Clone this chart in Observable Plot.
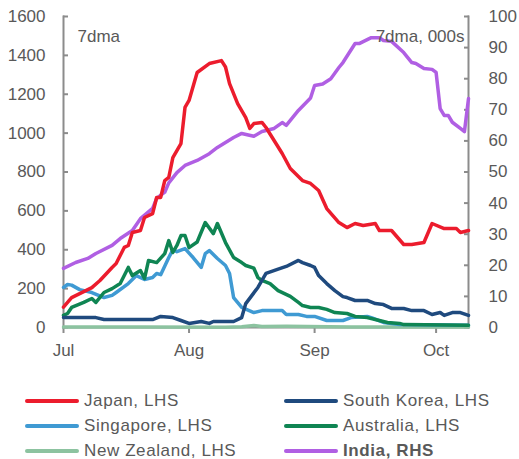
<!DOCTYPE html>
<html>
<head>
<meta charset="utf-8">
<script src="https://cdn.jsdelivr.net/npm/d3@7"></script>
<script src="https://cdn.jsdelivr.net/npm/@observablehq/plot@0.6"></script>
<style>
  body { margin: 0; background: #fff; font-family: "Liberation Sans", Arial, sans-serif; }
  #chart { width: 519px; }
  .legend { display: grid; grid-template-columns: 259px 240px; padding-left: 25px; margin-top: 24px; row-gap: 2px; }
  .item { display: flex; align-items: center; height: 23px; font-size: 17px; color: #595959; letter-spacing: 0.6px; white-space: nowrap; }
  .sw { width: 54px; height: 4px; border-radius: 2px; margin-right: 5px; flex: none; }
</style>
</head>
<body>
<div id="chart"></div>
<script>
// ---- Data (7-day moving averages, 2020) ----
const japanDates = ["07-01","07-03","07-08","07-10","07-13","07-14","07-16","07-17","07-18","07-20","07-21","07-23","07-24","07-25","07-26","07-27","07-28","07-30","07-31","08-01","08-03","08-06","08-09","08-10","08-11","08-13","08-15","08-16","08-17","08-19","08-20","08-22","08-24","08-26","08-29","08-31","09-02","09-04","09-07","09-09","09-11","09-13","09-16","09-17","09-20","09-23","09-25","09-28","09-30","10-03","10-06","10-07","10-09"];
const japanValues = [105,154,205,242,309,329,412,422,489,499,566,586,669,669,756,772,874,946,1132,1168,1312,1358,1373,1340,1255,1152,1080,1024,1049,1055,1029,962,895,818,756,741,705,612,540,514,535,525,535,499,499,427,427,437,535,509,509,489,499];

const koreaDates = ["07-01","07-09","07-11","07-23","07-25","07-28","07-30","08-01","08-04","08-06","08-07","08-12","08-14","08-15","08-18","08-20","08-23","08-25","08-28","08-29","08-31","09-01","09-02","09-04","09-06","09-08","09-09","09-11","09-14","09-16","09-18","09-20","09-23","09-25","09-28","09-30","10-02","10-03","10-05","10-07","10-09"];
const koreaValues = [51,51,41,41,57,51,36,21,31,21,31,31,51,123,206,278,300,314,345,334,319,309,267,226,190,159,154,139,139,123,118,98,98,87,87,67,77,62,77,77,62];

const singaporeDates = ["07-01","07-02","07-03","07-05","07-08","07-11","07-13","07-14","07-17","07-19","07-21","07-23","07-24","07-25","07-27","07-28","07-29","07-31","08-02","08-04","08-05","08-06","08-08","08-10","08-11","08-12","08-14","08-17","08-19","08-24","08-25","08-28","08-30","09-01","09-04","09-08","09-10","09-14","09-15","09-18","09-22","10-09"];
const singaporeValues = [206,221,218,195,180,154,165,180,226,267,247,257,278,272,360,400,390,406,360,309,380,396,355,319,278,154,103,77,87,87,67,67,57,57,36,36,51,57,51,26,15,12];

const australiaDates = ["07-01","07-02","07-03","07-06","07-08","07-09","07-11","07-13","07-15","07-17","07-18","07-20","07-21","07-22","07-24","07-26","07-27","07-28","07-29","07-30","07-31","08-01","08-03","08-05","08-07","08-08","08-10","08-12","08-14","08-15","08-17","08-18","08-19","08-21","08-23","08-26","08-28","08-29","08-31","09-02","09-04","09-06","09-09","09-11","09-14","09-16","09-19","09-22","09-23","10-09"];
const australiaValues = [62,72,103,129,149,129,180,200,226,309,267,293,252,345,334,380,447,386,422,473,473,411,440,540,483,535,437,360,334,319,305,257,242,226,190,160,129,113,103,103,93,77,72,57,51,41,26,21,15,12];

const nzDates = ["07-01","07-20","08-10","08-14","08-17","08-19","08-25","09-10","10-09"];
const nzValues = [3,2,1,4,10,5,6,3,2];

const indiaDates = ["07-01","07-04","07-07","07-09","07-13","07-15","07-18","07-20","07-23","07-24","07-26","07-27","07-29","07-31","08-03","08-06","08-08","08-12","08-14","08-17","08-19","08-22","08-24","08-25","08-27","08-28","08-31","09-01","09-03","09-05","09-07","09-08","09-11","09-12","09-15","09-17","09-18","09-20","09-23","09-25","09-26","09-28","09-30","10-01","10-02","10-03","10-04","10-05","10-07","10-08","10-09"];
const indiaValues = [19.0,20.9,22.2,23.8,26.4,28.6,31.2,35.0,38.3,41.5,43.5,46.5,49.8,52.1,53.7,55.9,57.9,61.1,62.4,61.5,63.0,64.0,65.9,65.0,68.2,69.8,73.8,77.8,78.3,80.0,83.6,85.2,91.3,91.3,93.2,93.2,92.3,92.0,88.4,85.2,84.9,83.3,83.0,82.0,70.4,68.2,68.2,66.0,64.0,63.0,73.6];

const leftTicks = [0,200,400,600,800,1000,1200,1400,1600];
const rightTicks = [0,10,20,30,40,50,60,70,80,90,100];
const monthTicks = ["07-01","08-01","09-01","10-01"];
const xStart = "07-01", xEnd = "10-09";

const seriesNames = ["Japan, LHS","South Korea, LHS","Singapore, LHS","Australia, LHS","New Zealand, LHS","India, RHS"];
const seriesColors = ["#ec1c2d","#1f4a7e","#3f9ad3","#0f8553","#8cc3a0","#b05fe3"];

// ---- Build ----
const parse = s => d3.utcParse("%Y-%m-%d")("2020-" + s);
const ratio = 1600 / 100; // right axis (000s) mapped onto left scale
const mk = (name, dates, values, k = 1) => dates.map((d, i) => ({name, date: parse(d), v: values[i] * k}));
const japan = mk(seriesNames[0], japanDates, japanValues);
const korea = mk(seriesNames[1], koreaDates, koreaValues);
const sing = mk(seriesNames[2], singaporeDates, singaporeValues);
const aus = mk(seriesNames[3], australiaDates, australiaValues);
const nz = mk(seriesNames[4], nzDates, nzValues);
const india = mk(seriesNames[5], indiaDates, indiaValues, ratio);

const ink = "#595959", axisInk = "#8c8c8c";
const lineOpts = (c) => ({x: "date", y: "v", stroke: c, strokeWidth: 3.5, strokeLinejoin: "round", strokeLinecap: "round"});

const plot = Plot.plot({
  width: 519,
  height: 365,
  marginLeft: 63,
  marginRight: 51,
  marginTop: 16,
  marginBottom: 38,
  style: {fontFamily: '"Liberation Sans", Arial, sans-serif', fontSize: "17px", color: ink, background: "#fff"},
  x: {type: "utc", domain: [parse(xStart), parse(xEnd)]},
  y: {domain: [0, 1600]},
  marks: [
    Plot.frame({anchor: "left", stroke: axisInk, strokeWidth: 2}),
    Plot.frame({anchor: "right", stroke: axisInk, strokeWidth: 2}),
    Plot.frame({anchor: "bottom", stroke: axisInk, strokeWidth: 2}),
    Plot.axisY(leftTicks, {anchor: "left", tickSize: -5, tickPadding: 23, stroke: axisInk, strokeWidth: 2, fill: ink, fontSize: 17, tickFormat: d => String(d), label: null}),
    Plot.axisY(rightTicks.map(d => d * ratio), {anchor: "right", tickSize: -5, tickPadding: 25, stroke: axisInk, strokeWidth: 2, fill: ink, fontSize: 17, tickFormat: d => String(d / ratio), label: null}),
    Plot.axisX(monthTicks.map(parse), {tickSize: 6, tickPadding: 10, stroke: axisInk, strokeWidth: 2, fill: ink, fontSize: 17, tickFormat: d3.utcFormat("%b"), label: null}),
    Plot.line(india, lineOpts(seriesColors[5])),
    Plot.line(nz, lineOpts(seriesColors[4])),
    Plot.line(sing, lineOpts(seriesColors[2])),
    Plot.line(aus, lineOpts(seriesColors[3])),
    Plot.line(korea, lineOpts(seriesColors[1])),
    Plot.line(japan, lineOpts(seriesColors[0])),
    Plot.text(["7dma"], {frameAnchor: "top-left", dx: 14, dy: 13, textAnchor: "start", fill: ink, fontSize: 17}),
    Plot.text(["7dma, 000s"], {frameAnchor: "top-right", dx: -4, dy: 13, textAnchor: "end", fill: ink, fontSize: 17})
  ]
});
document.getElementById("chart").appendChild(plot);

// ---- Legend (two columns) ----
const legend = d3.select("#chart").append("div").attr("class", "legend");
seriesNames.forEach((name, i) => {
  const it = legend.append("div").attr("class", "item");
  it.append("div").attr("class", "sw").style("background", seriesColors[i]);
  it.append("span").text(name).style("font-weight", i === 5 ? "bold" : "normal");
});
</script>
</body>
</html>
